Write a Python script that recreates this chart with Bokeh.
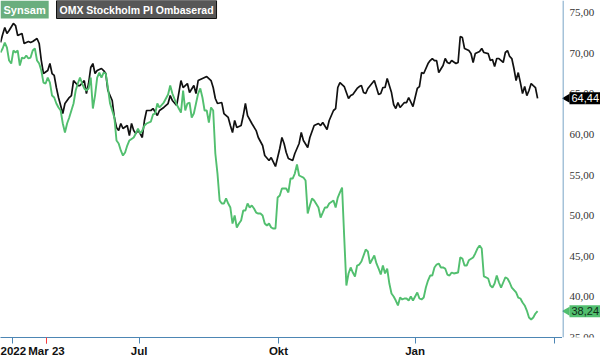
import math
from bokeh.plotting import figure
from bokeh.layouts import row
from bokeh.models import Range1d, FixedTicker, Label, Span
from bokeh.embed import file_html
from bokeh.resources import INLINE

# ---- data (trading-day index, price) ----
omx = [(0,71.31),(1,72.29),(2,73.15),(3,72.42),(4,72.78),(6,73.65),(7,73.40),(8,72.17),(10,72.42),(11,71.19),
       (13,71.43),(14,71.31),(15,71.43),(17,71.80),(18,71.19),(19,69.09),(20,67.49),(22,67.86),(23,68.72),(24,67.49),
       (25,67.25),(26,65.77),(27,64.54),(29,62.57),(30,63.80),(32,64.54),(33,64.78),(34,66.63),(36,66.01),(37,66.01),
       (39,66.63),(40,65.03),(41,66.26),(42,68.23),(43,68.72),(44,67.49),(45,67.86),(47,68.11),(48,67.86),(49,67.49),
       (50,65.40),(52,64.17),(53,62.08),(54,60.85),(55,60.47),(56,61.34),(57,60.72),(59,61.09),(60,59.86),(61,61.34),
       (62,60.47),(63,60.11),(64,60.47),(65,60.11),(66,59.62),(67,61.71),(68,62.94),(70,62.94),(71,63.18),(73,62.32),
       (74,62.94),(76,63.31),(78,63.80),(79,64.78),(80,64.17),(82,63.55),(84,66.63),(85,65.77),(87,66.26),(88,65.15),
       (90,66.01),(91,65.03),(92,66.63),(94,66.88),(96,67.12),(98,66.63),(99,65.77),(100,64.42),(101,63.80),(103,63.92),
       (104,62.57),(106,62.08),(107,61.09),(108,60.23),(109,61.71),(110,60.85),(112,61.09),(113,62.32),(114,63.80),(115,62.32),
       (117,61.34),(119,60.47),(120,59.62),(122,58.63),(123,57.40),(125,56.78),(126,57.15),(128,56.05),(129,57.15),(130,58.26),
       (131,59.62),(132,58.88),(133,57.77),(134,57.03),(136,56.78),(137,57.65),(139,58.88),(140,60.23),(141,59.25),(143,58.39),
       (144,59.62),(146,61.09),(148,61.34),(149,61.09),(150,61.46),(152,60.60),(153,61.71),(155,62.94),(156,63.18),(157,65.77),
       (158,66.38),(160,65.89),(161,65.15),(162,64.42),(163,64.78),(164,64.91),(166,65.65),(167,65.89),(168,66.01),(169,65.15),
       (170,65.03),(171,65.65),(174,66.63),(175,65.77),(176,64.91),(177,65.03),(178,65.77),(179,65.77),(180,66.88),(182,65.15),
       (183,63.68),(184,63.18),(185,63.92),(186,63.31),(188,63.92),(189,63.92),(190,64.54),(192,63.43),(193,64.54),(194,65.65),
       (195,65.89),(196,67.61),(197,67.49),(199,68.72),(200,69.09),(201,69.34),(202,69.09),(203,69.09),(204,67.61),(206,68.48),
       (207,69.34),(208,68.85),(209,68.72),(210,69.09),(212,68.72),(213,68.85),(214,72.05),(215,71.92),(216,70.57),(218,70.32),
       (219,69.95),(220,68.85),(221,69.95),(223,70.20),(224,70.57),(225,70.08),(227,69.95),(228,69.09),(229,69.22),(230,68.35),
       (231,69.34),(232,69.34),(234,68.85),(235,70.08),(236,70.32),(237,69.59),(238,69.34),(239,68.11),(240,66.63),(241,67.61),
       (242,66.38),(243,65.03),(244,65.89),(245,64.78),(246,65.40),(247,66.26),(248,66.01),(249,65.77),(250,64.44)]

synsam = [(0,70.08),(1,70.57),(2,71.31),(3,70.69),(4,69.09),(5,68.72),(6,70.32),(7,70.08),(8,70.32),(9,68.48),
          (10,69.46),(11,69.34),(12,69.71),(13,69.34),(14,69.46),(15,70.32),(16,70.57),(17,69.09),(18,68.72),(19,67.86),
          (20,66.38),(21,66.26),(22,67.00),(23,66.38),(24,64.78),(25,64.54),(26,63.80),(27,63.31),(28,62.94),(29,61.34),
          (30,60.23),(31,61.34),(32,62.08),(33,62.94),(34,63.80),(35,65.40),(36,66.26),(37,67.00),(38,66.26),(39,65.65),
          (40,65.40),(41,65.65),(42,67.00),(43,63.18),(44,64.78),(45,67.00),(46,67.61),(47,67.00),(48,67.61),(49,67.49),
          (50,65.77),(51,63.80),(53,62.08),(54,59.25),(55,58.88),(56,58.02),(57,57.40),(58,57.77),(59,58.63),(60,59.25),
          (62,59.62),(63,60.11),(64,60.72),(65,60.11),(66,60.47),(67,61.09),(68,61.34),(70,61.58),(71,62.45),(72,62.57),
          (73,63.80),(74,63.31),(76,63.92),(78,64.91),(79,66.01),(80,65.03),(82,63.68),(84,62.69),(85,65.40),(86,62.94),
          (87,63.80),(88,63.92),(89,62.08),(90,62.57),(91,63.80),(92,65.03),(93,65.65),(94,64.54),(95,62.94),(96,62.94),
          (97,61.46),(98,63.31),(99,62.94),(100,57.65),(101,55.18),(102,51.86),(103,51.49),(104,51.49),(105,52.11),(106,51.49),
          (107,51.00),(108,49.03),(109,50.02),(110,48.54),(111,49.03),(112,49.40),(113,50.63),(114,50.63),(115,51.49),(116,51.00),
          (117,51.25),(118,50.88),(119,50.38),(120,50.26),(121,50.26),(122,50.02),(123,49.03),(124,48.78),(125,49.03),(126,48.54),
          (127,48.41),(128,48.41),(129,52.23),(130,52.48),(131,53.34),(133,53.34),(134,52.85),(135,54.57),(136,54.57),(137,55.18),
          (138,56.29),(139,54.94),(141,54.69),(142,54.32),(143,50.26),(144,51.25),(145,52.11),(146,51.86),(148,51.00),(149,49.77),
          (150,50.38),(151,51.00),(152,51.00),(153,51.49),(155,51.86),(156,51.00),(157,52.23),(158,52.85),(159,53.46),(160,47.31),
          (161,41.40),(162,42.88),(163,43.62),(164,43.00),(165,42.51),(166,43.86),(167,43.98),(168,44.35),(170,45.83),(171,45.59),
          (172,44.11),(174,45.09),(175,44.11),(176,43.49),(177,42.75),(178,43.86),(179,42.88),(180,43.49),(181,41.64),(182,40.42),
          (183,40.05),(184,39.55),(185,38.94),(186,39.92),(187,39.68),(188,39.80),(189,39.80),(190,39.55),(191,40.05),(192,39.55),
          (194,40.54),(195,39.80),(196,39.68),(197,39.92),(198,41.15),(199,42.01),(200,42.63),(201,42.63),(202,43.62),(203,43.98),
          (204,44.11),(205,43.62),(206,43.62),(207,43.49),(208,42.75),(209,42.63),(210,43.00),(211,42.88),(213,43.00),(214,44.85),
          (215,44.72),(216,43.86),(217,43.86),(218,44.50),(220,44.85),(221,45.34),(222,45.95),(223,46.32),(224,45.95),(225,42.51),
          (226,42.39),(227,42.26),(228,41.40),(229,41.15),(230,41.64),(231,42.63),(232,41.77),(233,41.15),(234,41.77),(235,42.39),
          (236,42.26),(237,41.77),(238,41.15),(240,40.54),(241,39.92),(242,39.80),(243,39.31),(244,38.94),(245,38.32),(246,37.46),
          (247,37.21),(248,37.46),(249,37.95),(250,38.24)]

omx_days = [d for d, _ in omx]
omx_values = [v for _, v in omx]
synsam_days = [d for d, _ in synsam]
synsam_values = [v for _, v in synsam]

series_names = ["Synsam", "OMX Stockholm PI Ombaserad"]
x_ticks = [5.4, 21.4, 64.5, 129.4, 193.0, 258.0]
x_tick_labels = ["2022", "Mar 23", "Jul", "Okt", "Jan", ""]
marker_tick = [21.4]
y_ticks = [35, 40, 45, 50, 55, 60, 65, 70, 75]
y_tick_labels = ["35,00", "40,00", "45,00", "50,00", "55,00", "60,00", "65,00", "70,00", "75,00"]

GREEN = "#52bf6f"
BLACK = "#111111"
AXIS = "#4d86b4"
FONT = "Liberation Sans"

FRAME_H = 337
x_end = 261.6
y_range = Range1d(35, 76.48)

# ---- main chart ----
p = figure(frame_width=562, frame_height=FRAME_H, output_backend="svg", toolbar_location=None,
           x_range=Range1d(0, x_end), y_range=y_range, y_axis_location=None,
           min_border_left=0, min_border_top=0, min_border_right=0, min_border_bottom=0)
p.outline_line_color = None
p.grid.visible = False
p.border_fill_color = "white"

p.line(omx_days, omx_values, line_color=BLACK, line_width=1.7)
p.line(synsam_days, synsam_values, line_color=GREEN, line_width=1.9)

xa = p.xaxis[0]
xa.ticker = FixedTicker(ticks=x_ticks, minor_ticks=marker_tick)
xa.major_label_overrides = dict(zip(x_ticks, x_tick_labels))
xa.axis_line_color = AXIS
xa.major_tick_line_color = AXIS
xa.major_tick_in = 0
xa.major_tick_out = 6
xa.minor_tick_line_color = "#ff3b3b"
xa.minor_tick_in = 0
xa.minor_tick_out = 6
xa.major_label_standoff = 1
xa.major_label_text_font = FONT
xa.major_label_text_font_style = "bold"
xa.major_label_text_font_size = "11.5px"
xa.major_label_text_color = "#111111"

# legend boxes
p.add_layout(Label(x=0, y=76.48, text=series_names[0], text_baseline="top",
                   text_font=FONT, text_font_size="11px", text_font_style="bold",
                   text_color="white", background_fill_color="#6aae7e", padding=3))
p.add_layout(Label(x=0, y=76.48, x_offset=56, text=series_names[1], text_baseline="top",
                   text_font=FONT, text_font_size="10.5px", text_font_style="bold",
                   text_color="white", background_fill_color="#575757",
                   border_line_color="#111111", border_line_width=1, padding=3))

# ---- right value scale ----
s = figure(frame_width=38, frame_height=FRAME_H, output_backend="svg", toolbar_location=None,
           x_range=Range1d(0, 38), y_range=y_range, x_axis_location=None, y_axis_location=None,
           min_border_left=0, min_border_top=0, min_border_right=0, min_border_bottom=19)
s.outline_line_color = None
s.grid.visible = False
s.border_fill_color = "white"
s.add_layout(Span(location=0.5, dimension="height", line_color=AXIS, line_width=1))
s.text(x=[7] * len(y_ticks), y=y_ticks, text=y_tick_labels, text_baseline="middle",
       text_font=FONT, text_font_size="11px", text_color="#333333")

tag_values = [omx_values[-1], synsam_values[-1]]
tag_fill = ["#000000", GREEN]
tag_text = ["white", "#10301a"]
s.scatter(x=[4.5, 4.5], y=tag_values, marker="triangle", size=9, angle=math.pi / 2,
          fill_color=tag_fill, line_color=None)
for v, f, t in zip(tag_values, tag_fill, tag_text):
    s.add_layout(Label(x=7, y=v, text=f"{v:.2f}".replace(".", ","), text_baseline="middle",
                       text_font=FONT, text_font_size="11px", text_color=t,
                       background_fill_color=f, padding=2))

layout = row(p, s)
open("out.html", "w").write(file_html(layout, INLINE))
